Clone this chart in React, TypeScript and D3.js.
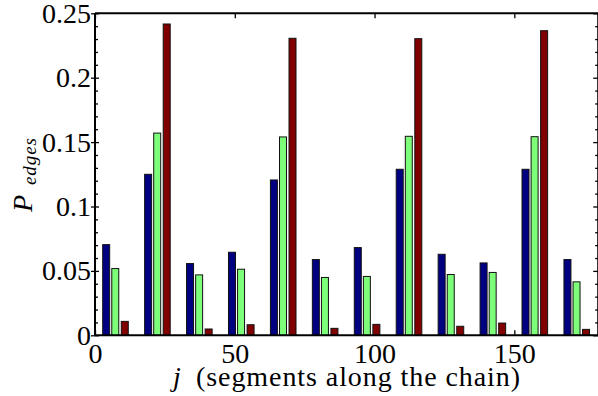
import { useEffect, useRef } from "react";
import * as d3 from "d3";

// group centres along the chain (j) and the three bar series
const groupJ = [7.5, 22.5, 37.5, 52.5, 67.5, 82.5, 97.5, 112.5, 127.5, 142.5, 157.5, 172.5];
const blueVals = [0.0704, 0.125, 0.0557, 0.0645, 0.1206, 0.0588, 0.0681, 0.1289, 0.0629, 0.0562, 0.1289, 0.0588];
const greenVals = [0.0518, 0.157, 0.0469, 0.0513, 0.154, 0.0449, 0.0457, 0.1545, 0.0472, 0.0488, 0.1542, 0.0415];
const redVals = [0.0108, 0.2417, 0.0049, 0.0082, 0.2306, 0.0054, 0.0085, 0.2303, 0.007, 0.0095, 0.2365, 0.0046];
const yTicks = [0, 0.05, 0.1, 0.15, 0.2, 0.25];
const xTicks = [0, 50, 100, 150];

const FONT = "Liberation Serif";

export default function App() {
  const ref = useRef<SVGSVGElement>(null);

  useEffect(() => {
    const W = 598, H = 396;
    const left = 95, right = 598.2, top = 13.3, bottom = 335.3;

    const svg = d3.select(ref.current);
    svg.selectAll("*").remove();

    const x = d3.scaleLinear().domain([0, 180]).range([left, right]);
    const y = d3.scaleLinear().domain([0, 0.25]).range([bottom, top]);

    const minor = d3.range(1, 25).map(i => i / 100).filter(v => Math.round(v * 100) % 5 !== 0);
    const fmt = (d: any) => String(+(+d).toFixed(2));

    const styleAxis = (g: any) => {
      g.select(".domain").remove();
      g.attr("font-family", null).attr("font-size", null);
      g.selectAll("line").attr("stroke", "#000").attr("stroke-width", 1.3);
      g.selectAll("text")
        .style("font-family", FONT)
        .style("font-size", "28px")
        .attr("fill", "#000");
    };

    // left axis: major ticks with labels, crossing the spine
    const gl = svg.append("g")
      .attr("transform", `translate(${left},0)`)
      .call(d3.axisLeft(y).tickValues(yTicks).tickSize(-4).tickPadding(4).tickFormat(fmt));
    gl.selectAll(".tick").append("line").attr("x2", -4);
    styleAxis(gl);
    const glm = svg.append("g")
      .attr("transform", `translate(${left},0)`)
      .call(d3.axisLeft(y).tickValues(minor).tickSize(-3).tickFormat(() => ""));
    styleAxis(glm);

    // right axis: ticks only
    const gr = svg.append("g")
      .attr("transform", `translate(${right},0)`)
      .call(d3.axisRight(y).tickValues(yTicks).tickSize(-5).tickFormat(() => ""));
    styleAxis(gr);
    const grm = svg.append("g")
      .attr("transform", `translate(${right},0)`)
      .call(d3.axisRight(y).tickValues(minor).tickSize(-3).tickFormat(() => ""));
    styleAxis(grm);

    // bottom and top axes
    const gb = svg.append("g")
      .attr("transform", `translate(0,${bottom})`)
      .call(d3.axisBottom(x).tickValues(xTicks).tickSize(-5).tickPadding(8).tickFormat(fmt));
    styleAxis(gb);
    const gt = svg.append("g")
      .attr("transform", `translate(0,${top})`)
      .call(d3.axisTop(x).tickValues(xTicks).tickSize(-5).tickFormat(() => ""));
    styleAxis(gt);

    // bars
    const series = [
      { vals: blueVals, color: "#000080", off: -3.25 },
      { vals: greenVals, color: "#7dff7a", off: 0 },
      { vals: redVals, color: "#800000", off: 3.4 },
    ];
    const bw = 2.5;
    series.forEach(s => {
      svg.append("g")
        .selectAll("rect")
        .data(groupJ.map((j, i) => ({ j: j - 0.25 + s.off, v: s.vals[i] })))
        .enter()
        .append("rect")
        .attr("x", d => x(d.j - bw / 2))
        .attr("y", d => y(d.v))
        .attr("width", x(bw) - x(0))
        .attr("height", d => y(0) - y(d.v))
        .attr("fill", s.color)
        .attr("stroke", "#111")
        .attr("stroke-width", 1);
    });

    // frame
    const frame = svg.append("g").attr("stroke", "#000").attr("stroke-width", 2).attr("fill", "none");
    frame.append("line").attr("x1", left).attr("x2", right).attr("y1", top).attr("y2", top);
    frame.append("line").attr("x1", left).attr("x2", right).attr("y1", bottom).attr("y2", bottom);
    frame.append("line").attr("x1", left).attr("x2", left).attr("y1", top).attr("y2", bottom);
    frame.append("line").attr("x1", right).attr("x2", right).attr("y1", top).attr("y2", bottom);

    const label = (sel: any, size: number, italic: boolean) =>
      sel.style("font-family", FONT)
        .style("font-size", `${size}px`)
        .style("font-style", italic ? "italic" : "normal")
        .attr("fill", "#000");

    // x label
    label(svg.append("text").attr("x", 173).attr("y", 386).text("j"), 28, true);
    label(svg.append("text").attr("x", 196).attr("y", 386)
      .attr("textLength", 324).attr("lengthAdjust", "spacing")
      .text("(segments along the chain)"), 28, false);

    // y label
    label(svg.append("text").attr("transform", "translate(32,212) rotate(-90)").text("P"), 28, true);
    label(svg.append("text").attr("transform", "translate(35.5,185) rotate(-90)")
      .attr("textLength", 47).attr("lengthAdjust", "spacing")
      .text("edges"), 19, true);

    svg.attr("width", W).attr("height", H);
  }, []);

  return (
    <svg
      ref={ref}
      width={598}
      height={396}
      style={{ position: "absolute", left: 0, top: 0, background: "#fff" }}
    />
  );
}
